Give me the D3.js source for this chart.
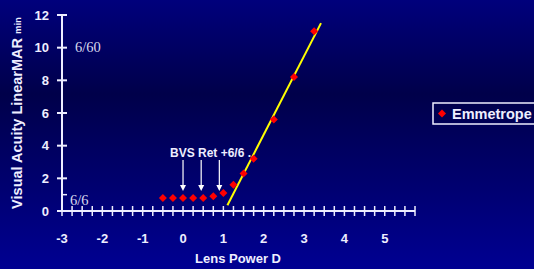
<!DOCTYPE html>
<html>
<head>
<meta charset="utf-8">
<script src="https://cdn.jsdelivr.net/npm/d3@7"></script>
<style>
body{margin:0;padding:0;overflow:hidden}
svg{display:block}
text{font-family:Arial,"Liberation Sans",sans-serif}
</style>
</head>
<body>
<div id="chart"></div>
<script>
// lens power (D) vs acuity readings
var lensPower = [-0.5,-0.25,0,0.25,0.5,0.75,1.0,1.25,1.5,1.75,2.25,2.75,3.25]
var acuity    = [0.8,0.8,0.8,0.8,0.8,0.9,1.1,1.6,2.3,3.2,5.6,8.2,11.0]
var fitLine   = [[1.1,0.35],[3.42,11.5]]
var arrowX    = [0,0.45,0.9]
var xTicks    = [-3,-2,-1,0,1,2,3,4,5]
var yTicks    = [0,2,4,6,8,10,12]
var seriesName = 'Emmetrope'

var W=534, H=269
var fg='#eeeeff'

var svg=d3.select('#chart').append('svg')
    .attr('width',W).attr('height',H)

var grad=svg.append('defs').append('linearGradient')
    .attr('id','bg').attr('x1',0).attr('y1',0).attr('x2',0).attr('y2',1)
grad.append('stop').attr('offset','0%').attr('stop-color','#00007c')
grad.append('stop').attr('offset','35%').attr('stop-color','#00004a')
grad.append('stop').attr('offset','100%').attr('stop-color','#000092')
svg.append('rect').attr('width',W).attr('height',H).attr('fill','url(#bg)')

var x=d3.scaleLinear().domain([-3,5.75]).range([62,415])
var y=d3.scaleLinear().domain([0,12]).range([211,15])

// y axis
var yax=svg.append('g').attr('transform','translate('+x(-3)+',0)')
yax.append('line').attr('y1',y(0)).attr('y2',y(12)).attr('stroke',fg).attr('stroke-width',2)
yax.selectAll('.yt').data(yTicks).enter().append('line')
    .attr('x1',-5).attr('x2',5).attr('y1',d=>y(d)).attr('y2',d=>y(d))
    .attr('stroke',fg).attr('stroke-width',2)
yax.append('line').attr('x1',0).attr('x2',5).attr('y1',y(1)).attr('y2',y(1))
    .attr('stroke',fg).attr('stroke-width',1.5)
yax.selectAll('.yl').data(yTicks).enter().append('text')
    .attr('x',-13).attr('y',d=>y(d)).attr('dy','0.36em')
    .attr('text-anchor','end').attr('fill',fg)
    .style('font-size','13px').style('font-weight','bold')
    .text(d=>d)

// x axis with quarter ticks
var minor=d3.range(-3,5.76,0.25)
var xax=svg.append('g').attr('transform','translate(0,'+y(0)+')')
xax.append('line').attr('x1',x(-3)).attr('x2',x(5.75)).attr('stroke',fg).attr('stroke-width',2)
xax.selectAll('.xt').data(minor).enter().append('line')
    .attr('x1',d=>x(d)).attr('x2',d=>x(d)).attr('y1',-5).attr('y2',5)
    .attr('stroke',fg).attr('stroke-width',1.5)
xax.selectAll('.xl').data(xTicks).enter().append('text')
    .attr('x',d=>x(d)).attr('y',27).attr('dy','0.36em')
    .attr('text-anchor','middle').attr('fill',fg)
    .style('font-size','13px').style('font-weight','bold')
    .text(d=>d)

// titles
svg.append('text').attr('x',238).attr('y',263).attr('text-anchor','middle')
    .attr('fill',fg).style('font-size','13px').style('font-weight','bold')
    .text('Lens Power D')
var yt=svg.append('text').attr('transform','translate(22,113) rotate(-90)')
    .attr('text-anchor','middle').attr('fill',fg)
    .style('font-size','14.5px').style('font-weight','bold')
yt.append('tspan').text('Visual Acuity LinearMAR ')
yt.append('tspan').style('font-size','9.5px').attr('dy','-1').text('min')

// snellen labels
svg.append('text').attr('x',75).attr('y',52).attr('fill','#d8d8ec')
    .style('font-family','"Liberation Serif","Times New Roman",serif').style('font-size','14.5px')
    .text('6/60')
svg.append('text').attr('x',70).attr('y',205).attr('fill','#d8d8ec')
    .style('font-family','"Liberation Serif","Times New Roman",serif').style('font-size','14.5px')
    .text('6/6')

// fit line
svg.append('line')
    .attr('x1',x(fitLine[0][0])).attr('y1',y(fitLine[0][1]))
    .attr('x2',x(fitLine[1][0])).attr('y2',y(fitLine[1][1]))
    .attr('stroke','#ffff00').attr('stroke-width',2)

// points: square turned 45 degrees
var diamond=d3.symbol().type(d3.symbolSquare).size(32)
svg.selectAll('.pt').data(lensPower).enter().append('path')
    .attr('d',diamond)
    .attr('transform',(d,i)=>'translate('+x(d)+','+y(acuity[i])+') rotate(45)')
    .attr('fill','#ff0000')

// arrows
svg.selectAll('.ar').data(arrowX).enter().append('line')
    .attr('x1',d=>x(d)).attr('x2',d=>x(d)).attr('y1',160).attr('y2',186)
    .attr('stroke','#ffffff').attr('stroke-width',1.2)
svg.selectAll('.ah').data(arrowX).enter().append('path')
    .attr('d',d=>'M'+(x(d)-3)+',185L'+(x(d)+3)+',185L'+x(d)+',191Z')
    .attr('fill','#ffffff')
svg.append('text').attr('x',170).attr('y',157).attr('fill',fg)
    .style('font-size','12px').style('font-weight','bold')
    .text('BVS Ret +6/6 .')

// legend
var lg=svg.append('g').attr('transform','translate(433,103)')
lg.append('rect').attr('x',0).attr('y',0).attr('width',110).attr('height',21)
    .attr('fill','none').attr('stroke',fg).attr('stroke-width',1.5)
lg.append('path').attr('d',diamond).attr('transform','translate(9,10.5) rotate(45)').attr('fill','#ff0000')
lg.append('text').attr('x',19).attr('y',10.5).attr('dy','0.36em').attr('fill',fg)
    .style('font-size','14.5px').style('font-weight','bold')
    .text(seriesName)
</script>
</body>
</html>
